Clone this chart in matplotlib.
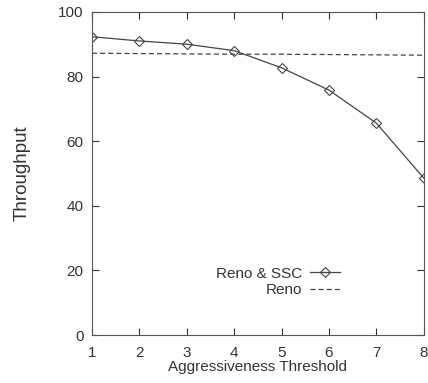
import matplotlib
matplotlib.use("Agg")
import matplotlib.pyplot as plt

x = [1, 2, 3, 4, 5, 6, 7, 8]
reno_ssc = [92.3, 91.0, 90.0, 88.0, 82.7, 75.8, 65.6, 48.6]
reno = [87.2, 87.1, 87.0, 86.9, 86.9, 86.8, 86.7, 86.6]

plt.rcParams['font.family'] = ['Liberation Sans', 'DejaVu Sans']
c = '#333333'
fig = plt.figure(figsize=(4.28, 3.83), dpi=100)
ax = fig.add_axes([0.215, 0.125, 0.775, 0.844])
ax.plot(x, reno_ssc, color='#444444', lw=0.9, marker='D', markersize=5,
        markerfacecolor='none', markeredgecolor='#444444', markeredgewidth=0.8,
        label='Reno & SSC')
ax.plot(x, reno, color='#444444', lw=0.9, linestyle=(0, (4, 2.5)), label='Reno')
ax.set_xlim(1, 8)
ax.set_ylim(0, 100)
ax.set_xticks(x)
ax.set_yticks([0, 20, 40, 60, 80, 100])
ax.tick_params(direction='in', top=True, right=True, length=5, width=0.8,
               labelsize=11, colors=c, pad=6)
ax.tick_params(axis='x', pad=8)
for s in ax.spines.values():
    s.set_color('#555555')
    s.set_linewidth(0.8)
ax.set_xlabel('Aggressiveness Threshold', fontsize=11, color=c, labelpad=0)
ax.set_ylabel('Throughput', fontsize=13.5, color=c, labelpad=20)
leg = ax.legend(loc='lower right', bbox_to_anchor=(0.79, 0.075), frameon=False,
                markerfirst=False, fontsize=11, handlelength=2.0,
                labelspacing=0.15, handletextpad=0.5, labelcolor=c)
for t in leg.get_texts():
    t.set_ha('right')
fig.savefig('out.png', dpi=100)
